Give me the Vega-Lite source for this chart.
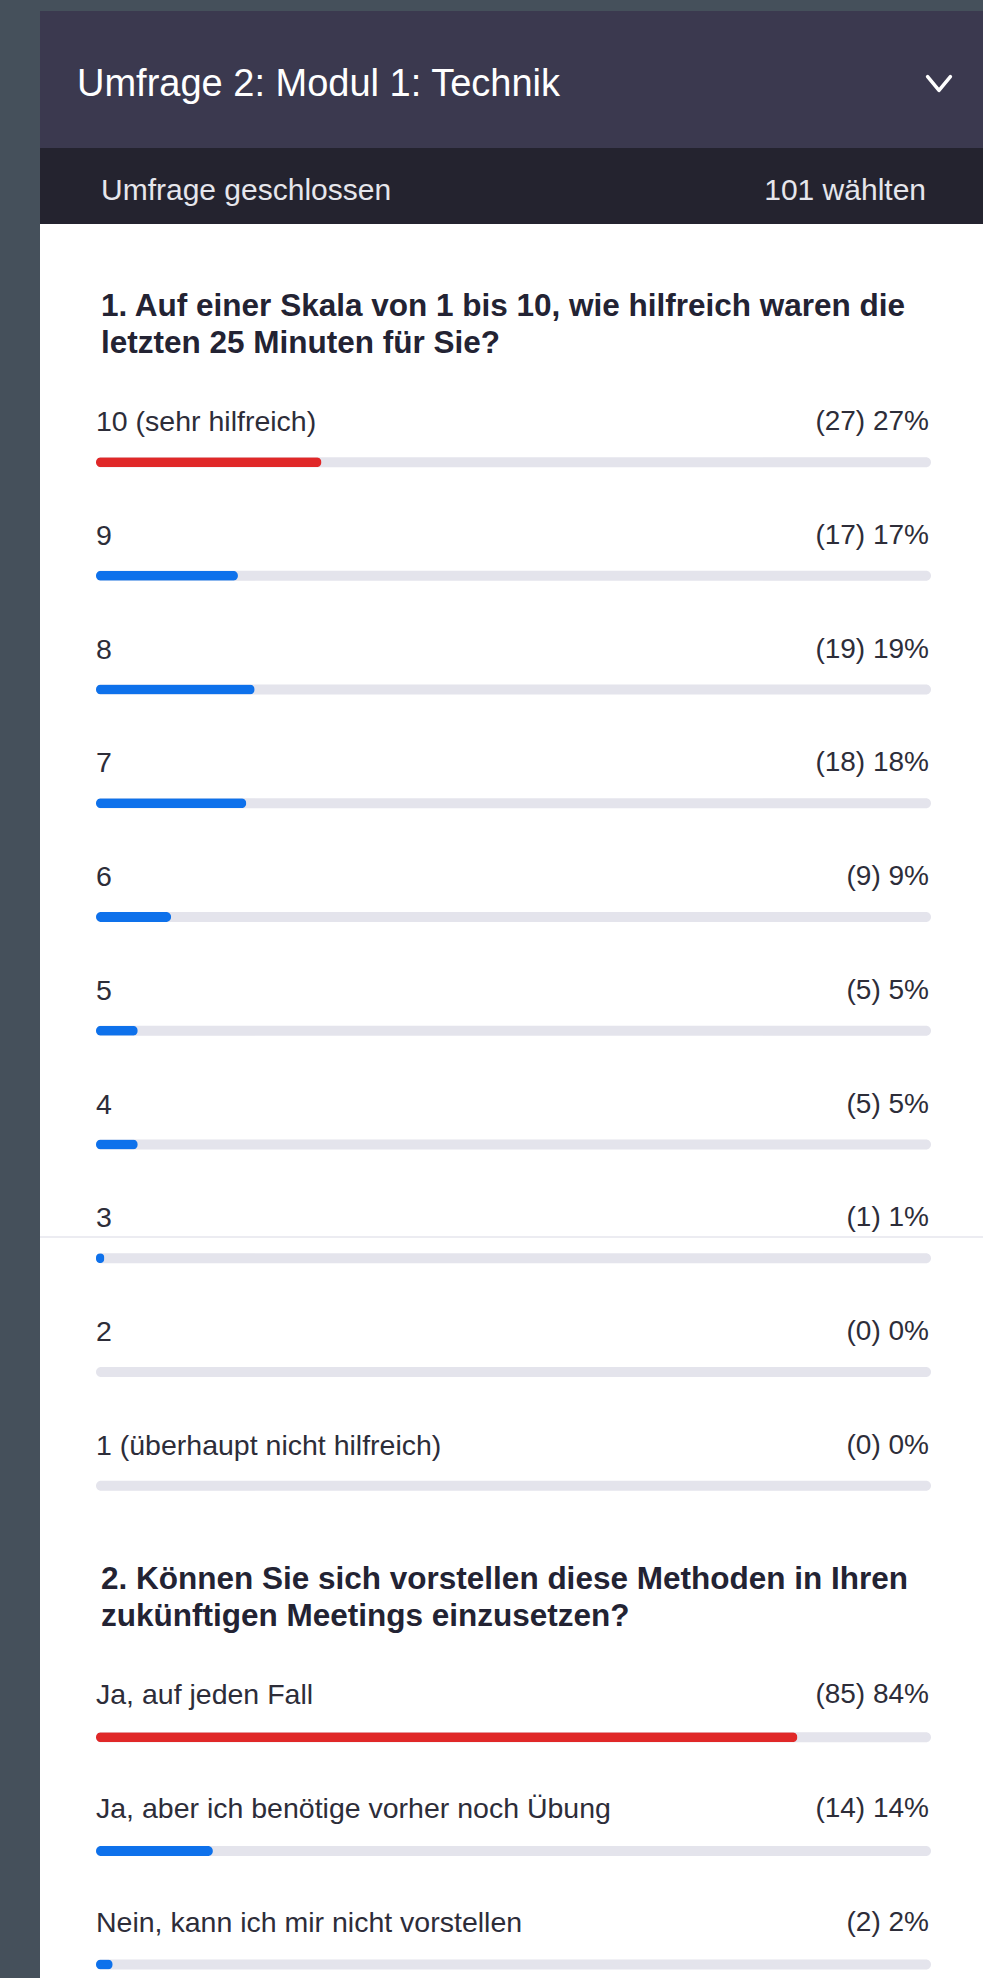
{
  "$schema": "https://vega.github.io/schema/vega-lite/v6.json",
  "background": "#45505b",
  "padding": {"left": 39, "top": 11, "right": 0, "bottom": 0},
  "spacing": 0,
  "config": {
    "view": {"stroke": null},
    "font": "Liberation Sans",
    "concat": {"spacing": 0}
  },
  "datasets": {
    "questions": [
      {"q": 1, "item": "Frage 1", "lines": ["1. Auf einer Skala von 1 bis 10, wie hilfreich waren die", "letzten 25 Minuten für Sie?"]},
      {"q": 2, "item": "Frage 2", "lines": ["2. Können Sie sich vorstellen diese Methoden in Ihren", "zukünftigen Meetings einzusetzen?"]}
    ],
    "q1": [
      {"item": "10 (sehr hilfreich)", "n": 27, "pct": 27, "result": "(27) 27%"},
      {"item": "9", "n": 17, "pct": 17, "result": "(17) 17%"},
      {"item": "8", "n": 19, "pct": 19, "result": "(19) 19%"},
      {"item": "7", "n": 18, "pct": 18, "result": "(18) 18%"},
      {"item": "6", "n": 9, "pct": 9, "result": "(9) 9%"},
      {"item": "5", "n": 5, "pct": 5, "result": "(5) 5%"},
      {"item": "4", "n": 5, "pct": 5, "result": "(5) 5%"},
      {"item": "3", "n": 1, "pct": 1, "result": "(1) 1%"},
      {"item": "2", "n": 0, "pct": 0, "result": "(0) 0%"},
      {"item": "1 (überhaupt nicht hilfreich)", "n": 0, "pct": 0, "result": "(0) 0%"}
    ],
    "q2": [
      {"item": "Ja, auf jeden Fall", "n": 85, "pct": 84, "result": "(85) 84%"},
      {"item": "Ja, aber ich benötige vorher noch Übung", "n": 14, "pct": 14, "result": "(14) 14%"},
      {"item": "Nein, kann ich mir nicht vorstellen", "n": 2, "pct": 2, "result": "(2) 2%"}
    ]
  },
  "vconcat": [
    {
      "width": 944,
      "height": 137,
      "view": {"fill": "#3b394f"},
      "data": {"values": [{"title": "Umfrage 2: Modul 1: Technik"}]},
      "layer": [
        {
          "mark": {"type": "text", "align": "left", "baseline": "middle", "fontSize": 38, "color": "#ffffff", "dx": -19, "dy": 5},
          "encoding": {
            "x": {"datum": 0, "type": "quantitative", "scale": {"domain": [0, 100], "range": [56, 891]}, "axis": null},
            "text": {"field": "title"}
          }
        },
        {
          "mark": {"type": "point", "shape": "M-1,-0.6L0,0.6L1,-0.6", "filled": false, "stroke": "#ffffff", "strokeWidth": 3.5, "size": 520, "opacity": 1, "xOffset": 8, "yOffset": 4, "strokeCap": "round", "strokeJoin": "round"},
          "encoding": {
            "x": {"datum": 100, "type": "quantitative", "scale": {"domain": [0, 100], "range": [56, 891]}, "axis": null}
          }
        }
      ]
    },
    {
      "width": 944,
      "height": 76,
      "view": {"fill": "#24232f"},
      "data": {"values": [{"status": "Umfrage geschlossen", "votes": "101 wählten"}]},
      "layer": [
        {
          "mark": {"type": "text", "align": "left", "baseline": "middle", "fontSize": 30, "color": "#e6e6ec", "dx": 5, "dy": 5},
          "encoding": {
            "x": {"datum": 0, "type": "quantitative", "scale": {"domain": [0, 100], "range": [56, 891]}, "axis": null},
            "text": {"field": "status"}
          }
        },
        {
          "mark": {"type": "text", "align": "right", "baseline": "middle", "fontSize": 30, "color": "#e6e6ec", "dx": -5, "dy": 5},
          "encoding": {
            "x": {"datum": 100, "type": "quantitative", "scale": {"domain": [0, 100], "range": [56, 891]}, "axis": null},
            "text": {"field": "votes"}
          }
        }
      ]
    },
    {
      "width": 944,
      "height": 1292,
      "view": {"fill": "#ffffff"},
      "layer": [
        {
          "data": {"name": "questions"},
          "transform": [{"filter": "datum.q === 1"}],
          "mark": {"type": "text", "align": "left", "baseline": "middle", "fontSize": 31.5, "fontWeight": "bold", "color": "#232333", "lineHeight": 37, "dx": 5, "dy": -19},
          "encoding": {
            "x": {"datum": 0, "type": "quantitative", "scale": {"domain": [0, 100], "range": [56, 891]}, "axis": null},
            "y": {"field": "item", "type": "nominal", "scale": {"type": "point", "padding": 0.68, "align": 0.662, "domain": ["Frage 1", "10 (sehr hilfreich)", "9", "8", "7", "6", "5", "4", "3", "2", "1 (überhaupt nicht hilfreich)"]}, "axis": null},
            "text": {"field": "lines"}
          }
        },
        {
          "data": {"name": "q1"},
          "mark": {"type": "rule", "color": "#ececf1", "strokeWidth": 1.5, "yOffset": 1},
          "encoding": {
            "y": {"datum": "3", "type": "nominal", "axis": null}
          }
        },
        {
          "data": {"name": "q1"},
          "mark": {"type": "bar", "height": 10, "cornerRadius": 5, "yOffset": 22, "color": "#e4e4ec"},
          "encoding": {
            "x": {"datum": 100, "type": "quantitative", "scale": {"domain": [0, 100], "range": [56, 891]}, "axis": null},
            "y": {"field": "item", "type": "nominal", "axis": null}
          }
        },
        {
          "data": {"name": "q1"},
          "transform": [{"joinaggregate": [{"op": "max", "field": "n", "as": "maxN"}]}],
          "mark": {"type": "bar", "height": 10, "cornerRadius": 5, "yOffset": 22},
          "encoding": {
            "x": {"field": "pct", "type": "quantitative", "scale": {"domain": [0, 100], "range": [56, 891]}, "axis": null},
            "y": {"field": "item", "type": "nominal", "axis": null},
            "color": {"condition": {"test": "datum.n === datum.maxN", "value": "#e02828"}, "value": "#0e71eb"}
          }
        },
        {
          "data": {"name": "q1"},
          "mark": {"type": "text", "align": "left", "baseline": "middle", "fontSize": 28.5, "color": "#2d2d39", "dy": -18},
          "encoding": {
            "x": {"datum": 0, "type": "quantitative", "scale": {"domain": [0, 100], "range": [56, 891]}, "axis": null},
            "y": {"field": "item", "type": "nominal", "axis": null},
            "text": {"field": "item"}
          }
        },
        {
          "data": {"name": "q1"},
          "mark": {"type": "text", "align": "right", "baseline": "middle", "fontSize": 28, "color": "#2d2d39", "dy": -18, "dx": -2},
          "encoding": {
            "x": {"datum": 100, "type": "quantitative", "scale": {"domain": [0, 100], "range": [56, 891]}, "axis": null},
            "y": {"field": "item", "type": "nominal", "axis": null},
            "text": {"field": "result"}
          }
        }
      ]
    },
    {
      "width": 944,
      "height": 462,
      "view": {"fill": "#ffffff"},
      "layer": [
        {
          "data": {"name": "questions"},
          "transform": [{"filter": "datum.q === 2"}],
          "mark": {"type": "text", "align": "left", "baseline": "middle", "fontSize": 31.5, "fontWeight": "bold", "color": "#232333", "lineHeight": 37, "dx": 5, "dy": -22},
          "encoding": {
            "x": {"datum": 0, "type": "quantitative", "scale": {"domain": [0, 100], "range": [56, 891]}, "axis": null},
            "y": {"field": "item", "type": "nominal", "scale": {"type": "point", "padding": 0.533, "align": 0.707, "domain": ["Frage 2", "Ja, auf jeden Fall", "Ja, aber ich benötige vorher noch Übung", "Nein, kann ich mir nicht vorstellen"]}, "axis": null},
            "text": {"field": "lines"}
          }
        },
        {
          "data": {"name": "q2"},
          "mark": {"type": "bar", "height": 10, "cornerRadius": 5, "yOffset": 22, "color": "#e4e4ec"},
          "encoding": {
            "x": {"datum": 100, "type": "quantitative", "scale": {"domain": [0, 100], "range": [56, 891]}, "axis": null},
            "y": {"field": "item", "type": "nominal", "axis": null}
          }
        },
        {
          "data": {"name": "q2"},
          "transform": [{"joinaggregate": [{"op": "max", "field": "n", "as": "maxN"}]}],
          "mark": {"type": "bar", "height": 10, "cornerRadius": 5, "yOffset": 22},
          "encoding": {
            "x": {"field": "pct", "type": "quantitative", "scale": {"domain": [0, 100], "range": [56, 891]}, "axis": null},
            "y": {"field": "item", "type": "nominal", "axis": null},
            "color": {"condition": {"test": "datum.n === datum.maxN", "value": "#e02828"}, "value": "#0e71eb"}
          }
        },
        {
          "data": {"name": "q2"},
          "mark": {"type": "text", "align": "left", "baseline": "middle", "fontSize": 28.5, "color": "#2d2d39", "dy": -20},
          "encoding": {
            "x": {"datum": 0, "type": "quantitative", "scale": {"domain": [0, 100], "range": [56, 891]}, "axis": null},
            "y": {"field": "item", "type": "nominal", "axis": null},
            "text": {"field": "item"}
          }
        },
        {
          "data": {"name": "q2"},
          "mark": {"type": "text", "align": "right", "baseline": "middle", "fontSize": 28, "color": "#2d2d39", "dy": -20, "dx": -2},
          "encoding": {
            "x": {"datum": 100, "type": "quantitative", "scale": {"domain": [0, 100], "range": [56, 891]}, "axis": null},
            "y": {"field": "item", "type": "nominal", "axis": null},
            "text": {"field": "result"}
          }
        }
      ]
    }
  ]
}
